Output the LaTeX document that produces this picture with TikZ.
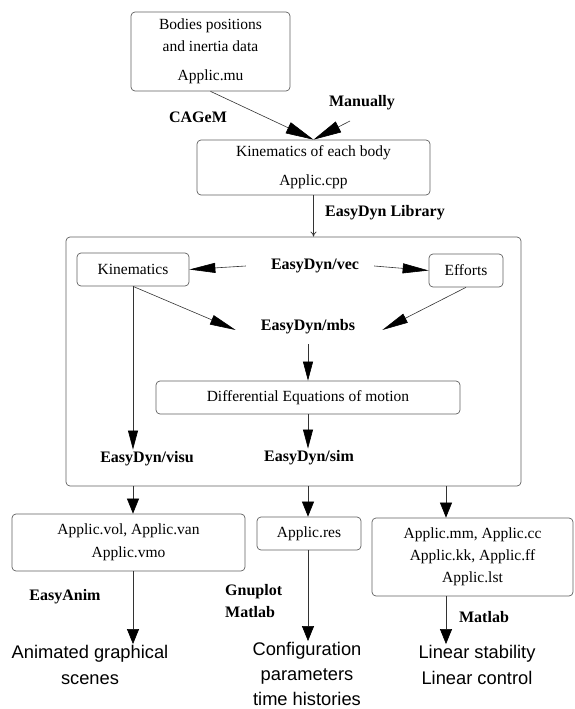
\documentclass[tikz,border=0pt]{standalone}
\usepackage{fontspec}
\setmainfont{Liberation Serif}
\setsansfont{Liberation Sans}
\usetikzlibrary{arrows.meta}
\begin{document}
\begin{tikzpicture}[x=1pt,y=-1pt,
  txt/.style={font=\fontsize{15.5}{22}\selectfont},
  box/.style={draw=gray!75!black, line width=0.7pt, rounded corners=4pt, align=center, inner sep=0pt, txt},
  lbl/.style={font=\bfseries\fontsize{16}{22}\selectfont, inner sep=2pt},
  big/.style={font=\sffamily\fontsize{18.3}{26}\selectfont, align=center, inner sep=1pt},
  conn/.style={draw=gray!40!black, line width=0.6pt},
  arrH/.style={conn, -{Triangle[length=28pt,width=12pt,color=black,fill=black]}},
  arrM/.style={conn, -{Triangle[length=26pt,width=10pt,color=black,fill=black]}},
  arrD/.style={conn, -{Triangle[length=19pt,width=10pt,color=black,fill=black]}},
  arrB/.style={conn, -{Triangle[length=15pt,width=12pt,color=black,fill=black]}},
  arrT/.style={conn, -{To[length=5pt,width=6pt]}}
]
\useasboundingbox (0,0) rectangle (574,709);

% top boxes
\node[box, minimum width=159pt, minimum height=79pt] (b1) at (210.5,51.5)
  {Bodies positions\\and inertia data\\[7pt]Applic.mu};
\node[box, minimum width=233pt, minimum height=55pt] (b2) at (313.5,167.5)
  {Kinematics of each body\\[7pt]Applic.cpp};
\node[lbl] (cagem) at (198,117) {CAGeM};
\node[lbl] (manual) at (362,103) {Manually};
\coordinate (mstart) at (350,121);
\node[lbl] (lib) at (385,213) {EasyDyn Library};

% main box
\node[box, minimum width=455pt, minimum height=249pt] (main) at (293.5,361.5) {};
\node[box, minimum width=112pt, minimum height=33pt] (kin) at (133,269.5) {Kinematics};
\node[box, minimum width=74pt, minimum height=33pt] (eff) at (466,270.5) {Efforts};
\node[lbl] (vec) at (315,266) {EasyDyn/vec};
\node[lbl] (mbs) at (308,327) {EasyDyn/mbs};
\node[box, minimum width=304pt, minimum height=33pt] (de) at (308,397.5) {Differential Equations of motion};
\node[lbl] (sim) at (309,458) {EasyDyn/sim};
\node[lbl] (visu) at (147,459) {EasyDyn/visu};

% output boxes
\node[box, minimum width=233pt, minimum height=57pt, font=\fontsize{15.5}{23}\selectfont] (lb) at (128.5,542.5)
  {Applic.vol, Applic.van\\Applic.vmo};
\node[box, minimum width=104pt, minimum height=33pt] (res) at (309,533.5) {Applic.res};
\node[box, minimum width=201pt, minimum height=78pt] (rb) at (472.5,557)
  {Applic.mm, Applic.cc\\Applic.kk, Applic.ff\\Applic.lst};

\coordinate (c1) at (133,0);
\coordinate (c2) at (308,0);
\coordinate (c3) at (446,0);

% labels bottom
\node[lbl] (anim) at (65,597) {EasyAnim};
\node[lbl, anchor=west, align=left] (gm) at (223,601) {Gnuplot\\Matlab};
\node[lbl] (mat) at (484,617) {Matlab};

\node[big] (out1) at (90,665) {Animated graphical\\scenes};
\node[big, font=\sffamily\fontsize{18.3}{25}\selectfont] (out2) at (307,674) {Configuration\\parameters\\time histories};
\node[big] (out3) at (477,665) {Linear stability\\Linear control};

% connectors
\draw[arrH] (b1.south) -- (b2.north);
\draw[arrH] (mstart) -- (b2.north);
\draw[arrT] (b2.south) -- (b2.south |- main.north);

\draw[arrM] ([xshift=-23pt]vec.west) -- (kin.east);
\draw[arrM] ([xshift=13pt]vec.east) -- (eff.west);
\draw[arrM] (kin.south) -- ([xshift=-23pt,yshift=-3pt]mbs.west);
\draw[arrM] (eff.south) -- ([xshift=25pt,yshift=-3pt]mbs.east);
\draw[arrD, shorten <=8pt] (mbs.south) -- (mbs.south |- de.north);
\draw[arrD] (de.south) -- (de.south |- sim.north);
\draw[arrD] (kin.south) -- (kin.south |- visu.north);

\draw[arrB] (main.south -| c1) -- (c1 |- lb.north);
\draw[arrB] (main.south -| c2) -- (c2 |- res.north);
\draw[arrB] (main.south -| c3) -- (c3 |- rb.north);

\draw[arrB] (lb.south -| c1) -- (c1 |- out1.north);
\draw[arrB] (res.south -| c2) -- (c2 |- out2.north);
\draw[arrB] (rb.south -| c3) -- (c3 |- out3.north);
\end{tikzpicture}
\end{document}
